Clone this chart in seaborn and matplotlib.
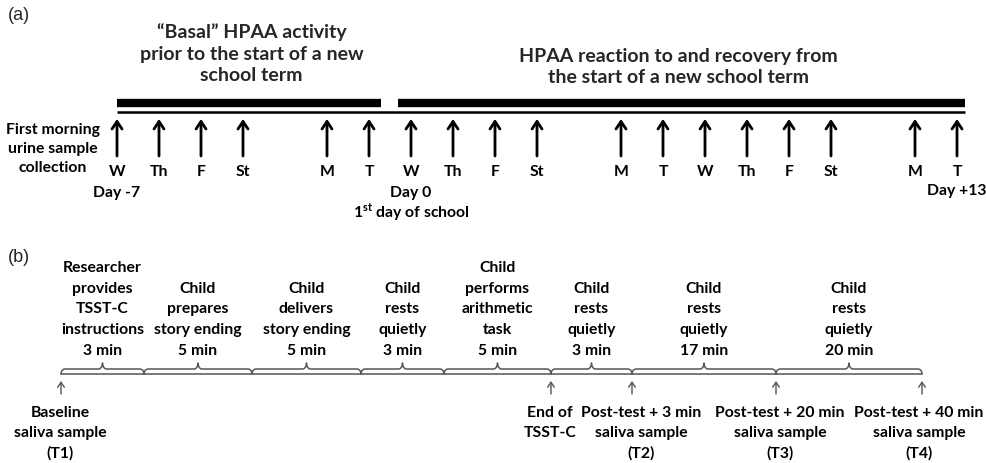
import numpy as np
import matplotlib.pyplot as plt
import seaborn as sns

# Panel (a): urine sampling days
days = [-7, -6, -5, -4, -2, -1, 0, 1, 2, 3, 5, 6, 7, 8, 9, 10, 12, 13]
day_letters = ['W', 'Th', 'F', 'St', 'M', 'T', 'W', 'Th', 'F', 'St',
               'M', 'T', 'W', 'Th', 'F', 'St', 'M', 'T']
basal_period = [-7, -0.72]
reaction_period = [-0.31, 13.2]
basal_title = '\u201cBasal\u201d HPAA activity\nprior to the start of a new\nschool term'
reaction_title = 'HPAA reaction to and recovery from\nthe start of a new school term'

# Panel (b): TSST-C protocol
seg_edges = [61, 144, 252, 361, 444, 551, 632, 776, 922]
seg_labels = ['Researcher\nprovides\nTSST-C\ninstructions\n3 min',
              'Child\nprepares\nstory ending\n5 min',
              'Child\ndelivers\nstory ending\n5 min',
              'Child\nrests\nquietly\n3 min',
              'Child\nperforms\narithmetic\ntask\n5 min',
              'Child\nrests\nquietly\n3 min',
              'Child\nrests\nquietly\n17 min',
              'Child\nrests\nquietly\n20 min']
sample_pos = [61, 551, 632, 776, 922]
sample_text_x = [60, 550, 641, 780, 919]
sample_labels = ['Baseline\nsaliva sample\n(T1)',
                 'End of\nTSST-C',
                 'Post-test + 3 min\nsaliva sample\n(T2)',
                 'Post-test + 20 min\nsaliva sample\n(T3)',
                 'Post-test + 40 min\nsaliva sample\n(T4)']

sns.set_theme(style='white')
plt.rcParams['font.family'] = ['Lato', 'DejaVu Sans']
plt.rcParams['mathtext.fontset'] = 'custom'
plt.rcParams['mathtext.rm'] = 'Lato'
plt.rcParams['mathtext.bf'] = 'Lato:bold'

W, H = 986, 464
fig = plt.figure(figsize=(W / 100, H / 100), dpi=100)

# ---- panel (a), x in days, y in pixels
ax = fig.add_axes([0, 0, 1, 1])
ax.set_xlim(-411 / 42, (W - 411) / 42)
ax.set_ylim(H, 0)
ax.axis('off')

lab = dict(fontsize=11.3, fontweight='bold', color='black')

sns.lineplot(x=basal_period, y=[104, 104], ax=ax, color='black', linewidth=6, solid_capstyle='butt')
sns.lineplot(x=reaction_period, y=[104, 104], ax=ax, color='black', linewidth=6, solid_capstyle='butt')
sns.lineplot(x=[basal_period[0], reaction_period[1]], y=[113, 113], ax=ax,
             color='black', linewidth=1.8, solid_capstyle='butt')

for d, s in zip(days, day_letters):
    ax.annotate('', xy=(d, 120), xytext=(d, 157),
                arrowprops=dict(arrowstyle='->,head_length=0.45,head_width=0.3',
                                color='black', lw=2, shrinkA=0, shrinkB=0))
    ax.text(d, 172, s, ha='center', va='center', **lab)

ax.text(-7, 186, 'Day -7', ha='center', va='top', **lab)
ax.text(0, 186, 'Day 0', ha='center', va='top', **lab)
ax.text(0, 201, r'1$^{\mathbf{st}}$ day of school', ha='center', va='top', **lab)
ax.text(13, 184, 'Day +13', ha='center', va='top', **lab)
ax.text(-8.52, 149, 'First morning\nurine sample\ncollection', ha='center', va='center',
        linespacing=1.42, **lab)

ax.text(-3.8, 54, basal_title, ha='center', va='center', fontsize=14,
        fontweight='bold', linespacing=1.32)
ax.text(6.36, 67, reaction_title, ha='center', va='center', fontsize=14,
        fontweight='bold', linespacing=1.32)

fig.text(8 / W, 1 - 16 / H, '(a)', ha='left', va='center', fontsize=13,
         family='Liberation Sans', fontweight='normal')
fig.text(8 / W, 1 - 258 / H, '(b)', ha='left', va='center', fontsize=13,
         family='Liberation Sans', fontweight='normal')

# ---- panel (b), x and y in pixels
bx = fig.add_axes([0, 0, 1, 1])
bx.set_xlim(0, W)
bx.set_ylim(H, 0)
bx.axis('off')
bx.patch.set_alpha(0)

gray = '#555555'
base_y, flat_y, tip_y, r = 375, 370, 364, 4


def brace(x0, x1):
    m = (x0 + x1) / 2
    t = np.linspace(0, np.pi / 2, 10)
    xs = np.concatenate([x0 + r * (1 - np.cos(t)), [m - r],
                         m - r + r * np.sin(t), m + r - r * np.sin(t[::-1]),
                         [m + r], x1 - r * (1 - np.cos(t[::-1]))])
    ys = np.concatenate([base_y - (base_y - flat_y) * np.sin(t), [flat_y],
                         flat_y - (flat_y - tip_y) * (1 - np.cos(t)),
                         flat_y - (flat_y - tip_y) * (1 - np.cos(t[::-1])),
                         [flat_y], base_y - (base_y - flat_y) * np.sin(t[::-1])])
    bx.plot(xs, ys, color=gray, lw=1.1)


bx.plot([seg_edges[0], seg_edges[-1]], [base_y, base_y], color=gray, lw=1.1)
for i, txt in enumerate(seg_labels):
    x0, x1 = seg_edges[i], seg_edges[i + 1]
    brace(x0, x1)
    bx.text((x0 + x1) / 2, 358, txt, ha='center', va='bottom', linespacing=1.62, **lab)

for p, tx, txt in zip(sample_pos, sample_text_x, sample_labels):
    bx.annotate('', xy=(p, 382), xytext=(p, 395),
                arrowprops=dict(arrowstyle='->,head_length=0.3,head_width=0.2',
                                color=gray, lw=1, shrinkA=0, shrinkB=0))
    bx.text(tx, 406, txt, ha='center', va='top', linespacing=1.52, **lab)

fig.savefig('out.png', dpi=100)
